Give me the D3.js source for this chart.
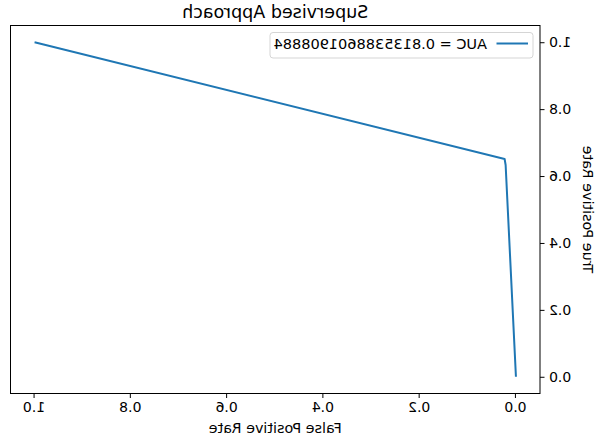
<!DOCTYPE html>
<html>
<head>
<meta charset="utf-8">
<script src="https://cdn.jsdelivr.net/npm/d3@7"></script>
<style>
  body { margin: 0; background: #fff; }
  svg text { font-family: "DejaVu Sans", sans-serif; fill: #000; }
</style>
</head>
<body>
<div id="wrapper"></div>
<script>
// ROC curve points
const fpr = [0, 0.0214, 0.0235, 1]
const tpr = [0, 0.633, 0.651, 1]
const xTicks = [0, 0.2, 0.4, 0.6, 0.8, 1.0]
const yTicks = [0, 0.2, 0.4, 0.6, 0.8, 1.0]
const legendLabel = "AUC = 0.8135388601908884"
const title = "Supervised Approach"
const xLabel = "False Positive Rate"
const yLabel = "True Positive Rate"

const width = 595, height = 441
const margin = {top: 25.5, right: 10.5, bottom: 47.5, left: 55}
const boundedWidth = width - margin.left - margin.right
const boundedHeight = height - margin.top - margin.bottom

const svg = d3.select("#wrapper").append("svg")
  .attr("width", width)
  .attr("height", height)

// the reference picture is mirrored left-to-right
const root = svg.append("g")
  .attr("transform", `translate(${width},0) scale(-1,1)`)

const bounds = root.append("g")
  .attr("transform", `translate(${margin.left},${margin.top})`)

const xScale = d3.scaleLinear().domain([-0.05, 1.05]).range([0, boundedWidth])
const yScale = d3.scaleLinear().domain([-0.05, 1.05]).range([boundedHeight, 0])

const data = fpr.map((d, i) => ({x: d, y: tpr[i]}))

const line = d3.line().x(d => xScale(d.x)).y(d => yScale(d.y))

bounds.append("path")
  .datum(data)
  .attr("d", line)
  .attr("fill", "none")
  .attr("stroke", "#1f77b4")
  .attr("stroke-width", 2)
  .attr("stroke-linejoin", "round")

const xAxis = bounds.append("g")
  .attr("transform", `translate(0,${boundedHeight})`)
  .call(d3.axisBottom(xScale).tickValues(xTicks).tickFormat(d3.format(".1f")).tickSize(4.5).tickPadding(4.5))
const yAxis = bounds.append("g")
  .call(d3.axisLeft(yScale).tickValues(yTicks).tickFormat(d3.format(".1f")).tickSize(4.5).tickPadding(4.5))

for (const ax of [xAxis, yAxis]) {
  ax.select(".domain").remove()
  ax.selectAll("line").attr("stroke", "#000").attr("stroke-width", 1)
  ax.selectAll("text").style("font-size", "14px").style("font-family", "DejaVu Sans")
}

bounds.append("rect")
  .attr("width", boundedWidth)
  .attr("height", boundedHeight)
  .attr("fill", "none")
  .attr("stroke", "#000")
  .attr("stroke-width", 1)

root.append("text")
  .attr("x", margin.left + boundedWidth / 2)
  .attr("y", 17.5)
  .attr("text-anchor", "middle")
  .style("font-size", "17.5px")
  .text(title)

root.append("text")
  .attr("x", margin.left + boundedWidth / 2)
  .attr("y", 433)
  .attr("text-anchor", "middle")
  .style("font-size", "14.3px")
  .text(xLabel)

root.append("text")
  .attr("transform", `translate(12.5,${margin.top + boundedHeight / 2}) rotate(-90)`)
  .attr("text-anchor", "middle")
  .style("font-size", "14.3px")
  .text(yLabel)

// legend
const legend = bounds.append("g").attr("transform", "translate(7,7)")
legend.append("rect")
  .attr("width", 263).attr("height", 25.5)
  .attr("rx", 3)
  .attr("fill", "#fff").attr("fill-opacity", 0.8)
  .attr("stroke", "#d5d5d5")
legend.append("line")
  .attr("x1", 5).attr("x2", 36.5).attr("y1", 11).attr("y2", 11)
  .attr("stroke", "#1f77b4").attr("stroke-width", 2)
legend.append("text")
  .attr("x", 46).attr("y", 16.5)
  .style("font-size", "14.5px")
  .text(legendLabel)
</script>
</body>
</html>
